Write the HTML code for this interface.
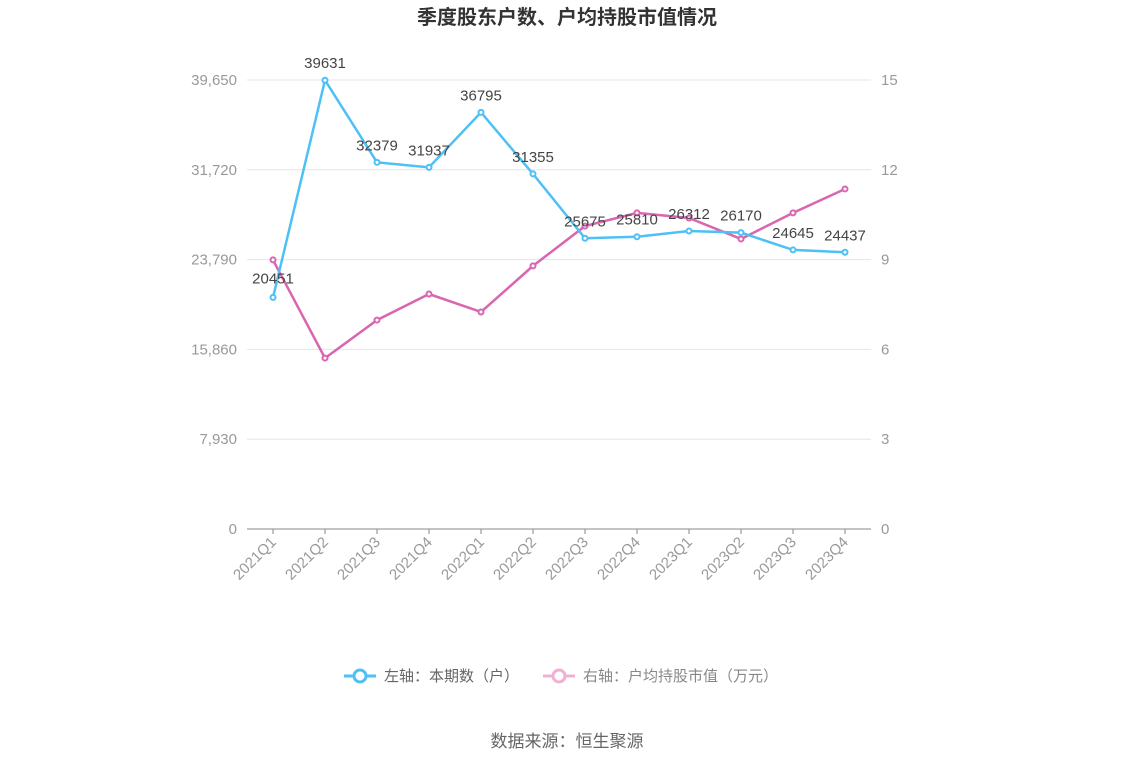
<!DOCTYPE html>
<html><head><meta charset="utf-8"><style>
body{margin:0;background:#fff;font-family:"Liberation Sans","Noto Sans CJK SC",sans-serif;}
</style></head><body>
<svg width="1134" height="766" xmlns="http://www.w3.org/2000/svg" font-family="Liberation Sans, Noto Sans CJK SC, sans-serif" id="chart">
<text x="567" y="24" text-anchor="middle" font-size="20" font-weight="bold" fill="#333">季度股东户数、户均持股市值情况</text>
<g id="grid"></g><g id="axes"></g><g id="series"></g>
<g>
<g><line x1="344" y1="676" x2="376" y2="676" stroke="#4fc0f5" stroke-width="3"/><circle cx="360" cy="676" r="6" fill="#fff" stroke="#4fc0f5" stroke-width="3"/><text x="384" y="681" font-size="15" fill="#666">左轴：本期数（户）</text></g>
<g><line x1="543" y1="676" x2="575" y2="676" stroke="#f0b0d5" stroke-width="3"/><circle cx="559" cy="676" r="6" fill="#fff" stroke="#f0b0d5" stroke-width="3"/><text x="583" y="681" font-size="15" fill="#888">右轴：户均持股市值（万元）</text></g>
</g>
<text x="567" y="747" text-anchor="middle" font-size="17" fill="#666">数据来源：恒生聚源</text>
</svg>
<script>
const categories=["2021Q1","2021Q2","2021Q3","2021Q4","2022Q1","2022Q2","2022Q3","2022Q4","2023Q1","2023Q2","2023Q3","2023Q4"];
const holders=[20451,39631,32379,31937,36795,31355,25675,25810,26312,26170,24645,24437];
const avgValue=[8.99,5.71,6.98,7.85,7.25,8.79,10.12,10.56,10.39,9.69,10.56,11.36];
const leftTicks=[0,7930,15860,23790,31720,39650];
const rightTicks=[0,3,6,9,12,15];
const NS="http://www.w3.org/2000/svg";
const x0=247,x1=871,yB=529,yT=80;
const bw=(x1-x0)/categories.length;
const xs=i=>x0+bw*(i+0.5);
const yl=v=>yB-(v/39650)*(yB-yT);
const yr=v=>yB-(v/15)*(yB-yT);
function mk(t,a,p){const e=document.createElementNS(NS,t);for(const k in a)e.setAttribute(k,a[k]);p.appendChild(e);return e;}
const grid=document.getElementById('grid'),axes=document.getElementById('axes'),ser=document.getElementById('series');
leftTicks.forEach((v,i)=>{const y=yl(v);
 if(v>0){const l=mk('line',{x1:x0,x2:x1,y1:y,y2:y,stroke:'#e3e5f0'},grid);
 
 }
 const t=mk('text',{x:237,y:y+5,'text-anchor':'end','font-size':15,fill:'#999'},axes);t.textContent=v.toLocaleString('en-US');
 
 
 const r=mk('text',{x:881,y:yr(rightTicks[i])+5,'font-size':15,fill:'#999'},axes);r.textContent=rightTicks[i];
 
 
});
const ax=mk('line',{x1:x0,x2:x1,y1:yB,y2:yB,stroke:'#888'},axes);


categories.forEach((c,i)=>{const x=xs(i);
 mk('line',{x1:x,x2:x,y1:yB,y2:yB+5,stroke:'#888'},axes);
 const t=mk('text',{x:x+4,y:yB+14,'text-anchor':'end','font-size':15,fill:'#999',transform:`rotate(-45 ${x+4} ${yB+14})`},axes);t.textContent=c;
 
 
});
function line(data,yf,color,name,labels){
 const p=mk('polyline',{points:data.map((v,i)=>xs(i)+','+yf(v)).join(' '),fill:'none',stroke:color,'stroke-width':2.5},ser);
 
 
 data.forEach((v,i)=>{const c=mk('circle',{cx:xs(i),cy:yf(v),r:2.5,fill:'#fff',stroke:color,'stroke-width':2},ser);
 
 
 if(labels){const t=mk('text',{x:xs(i),y:yf(v)-12,'text-anchor':'middle','font-size':15,fill:'#444'},ser);t.textContent=v;
 
 
 if(i===0)t.setAttribute('y',yf(v)-14);}
 });
}
line(avgValue,yr,'#d966b0','avg-value',false);
line(holders,yl,'#4fc0f5','holders',true);
</script>
</body></html>
